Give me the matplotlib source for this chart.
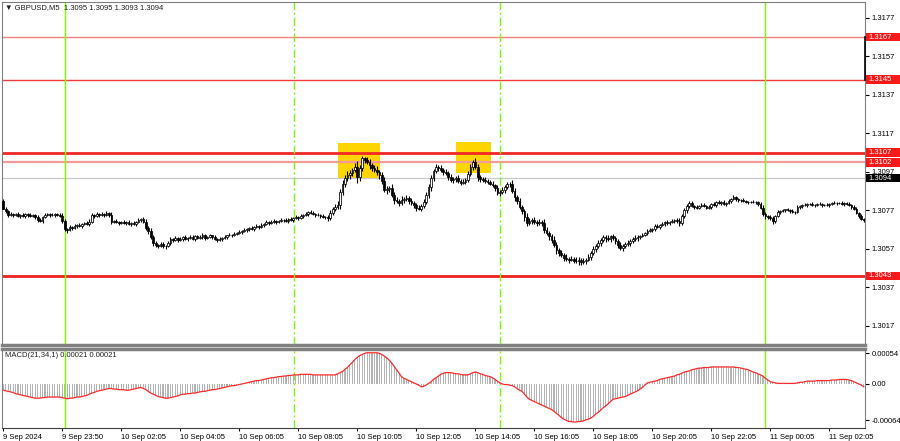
import numpy as np
import matplotlib
matplotlib.use("Agg")
import matplotlib.pyplot as plt
from matplotlib.patches import Rectangle
from matplotlib.transforms import blended_transform_factory

plt.rcParams['font.family'] = ['Liberation Sans', 'DejaVu Sans']

# GBPUSD M5 closes, in pips above 1.3000
first_open = 82
closes_pips = [
    78, 76.5, 74.5, 75, 74.5, 75, 74, 74.5, 74, 75,
    74.5, 74, 74.5, 73.5, 72, 71.5, 73.5, 74.5, 75, 74.5,
    74.5, 75, 74.5, 74, 71.5, 67.5, 67, 68.5, 68, 69,
    69.5, 69, 70, 70.5, 70, 71, 74.5, 74, 75, 74.5,
    75, 74.5, 75.5, 74.5, 71, 71.5, 71, 70.5, 71, 70.5,
    71, 70, 70.5, 70, 71, 72, 72.5, 71, 68, 66.5,
    63, 60, 59, 58.5, 59.5, 58.5, 58.5, 60, 62, 61.5,
    62.5, 61.5, 62, 63, 62, 62.5, 63, 62, 63.5, 62.5,
    63, 64, 62.5, 63, 64, 63, 62, 61.5, 62, 62.5,
    63, 64, 64.5, 64, 65, 65.5, 66, 66.5, 67, 67.5,
    68, 67.5, 68.5, 69, 68.5, 69.5, 70, 71, 70.5, 71,
    71.5, 71, 71.5, 72, 72, 71.5, 72.5, 72, 73, 73.5,
    73, 74, 74.5, 75, 76, 75.5, 75, 74.5, 74.5, 74,
    73.5, 73.5, 73, 75.5, 78, 79, 80, 86.5, 91, 94,
    95.5, 96.5, 98, 99.5, 94.5, 99, 104, 103, 102, 100.5,
    99, 98, 97, 95.5, 92.5, 87.5, 88, 88.5, 85, 82.5,
    82, 81, 82.5, 83, 83.5, 82, 81, 80, 78.5, 78,
    79.5, 81.5, 85, 89, 94, 97.5, 99.5, 99, 98, 97,
    96.5, 94.5, 93, 93.5, 94, 92.5, 91.5, 92, 93, 96,
    99.5, 102, 99.5, 94.5, 93.5, 93, 92.5, 92, 91, 90,
    88.5, 86, 86.5, 87.5, 89, 90.5, 91, 87, 84, 82,
    79, 76.5, 73.5, 70.5, 71.5, 72, 71, 70.5, 71, 70.5,
    67, 65.5, 63.5, 61.5, 59, 56.5, 55, 54, 52.5, 52,
    51.5, 52, 51, 50.5, 51.5, 50, 50.5, 51.5, 53, 55,
    57, 58.5, 60, 61.5, 63, 62.5, 62, 63.5, 62.5, 61,
    59, 57.5, 58.5, 59.5, 60, 61, 62, 62.5, 63, 63.5,
    64.5, 65.5, 66.5, 67, 67.5, 69, 68.5, 69.5, 70, 71,
    70.5, 71, 71.5, 72, 71.5, 70.5, 74, 77, 79.5, 81,
    79.5, 79, 78.5, 79.5, 80, 79.5, 78.5, 79, 80.5, 80,
    81.5, 81, 81.5, 80.5, 81, 82, 83, 84, 83, 82.5,
    82.5, 82, 81.5, 81.5, 81.5, 81.5, 81.5, 80.5, 78.5, 75,
    74, 73.5, 73, 71.5, 74, 76, 76.5, 77, 77.5, 77,
    76.5, 76, 76, 79, 79.5, 80, 80, 80.5, 80.5, 80,
    80, 80.5, 80.5, 80, 80, 80, 80.5, 81, 81, 81,
    81, 80.5, 81, 80.5, 80, 79, 78, 75.5, 74, 72.5,
    72,
]

# wick lengths beyond the body, pips
upper_wick = [
    1, 1, 0.5, 1, 0.5, 0.5, 1, 0.5, 1, 0.5,
    0.5, 1, 0.5, 0.5, 1, 1, 0.5, 1, 0.5, 0.5,
    1, 0.5, 0.5, 1, 1.5, 1, 0.5, 1, 0.5, 1,
    0.5, 1, 0.5, 0.5, 1, 1.5, 1, 0.5, 1, 0.5,
    1, 0.5, 1, 0.5, 1.5, 0.5, 1, 0.5, 0.5, 1,
    0.5, 1, 0.5, 1, 0.5, 1, 0.5, 1, 1.5, 1,
    1.5, 1, 1, 0.5, 1, 1, 0.5, 1, 1, 0.5,
    1, 0.5, 1, 0.5, 1, 0.5, 1, 1, 0.5, 1,
    1, 1.5, 1, 0.5, 1, 0.5, 1, 0.5, 1, 0.5,
    1, 0.5, 1, 0.5, 1, 0.5, 1, 0.5, 1, 0.5,
    0.5, 1, 0.5, 1, 0.5, 1, 0.5, 1, 0.5, 1,
    1, 0.5, 0.5, 1, 0.5, 1, 0.5, 1, 0.5, 1,
    0.5, 1, 0.5, 1, 0.5, 1, 1, 0.5, 1, 0.5,
    1, 0.5, 1, 1.5, 1, 1.5, 2, 1.5, 2, 1.5,
    2, 1.5, 1, 2, 3, 1.5, 1.5, 1, 2, 1.5,
    1, 1.5, 2, 1, 1.5, 2, 1.5, 1, 2, 1.5,
    1.5, 1, 2, 1, 1.5, 1, 1.5, 1, 1, 1.5,
    1, 1.5, 1.5, 2, 1.5, 1, 1.5, 1, 1.5, 1,
    1.5, 1, 1.5, 1, 1, 1.5, 1, 1.5, 1, 1.5,
    1.5, 1, 2, 1.5, 1, 1, 1.5, 1, 1, 1.5,
    1, 1.5, 1, 1.5, 1, 1.5, 1, 2, 1.5, 1,
    1.5, 1, 1.5, 2, 1.5, 1, 1.5, 1, 1.5, 1,
    2, 1.5, 1, 1.5, 2, 1.5, 1, 1.5, 1, 2,
    1, 1.5, 1, 2, 1.5, 1, 2, 1, 1.5, 1,
    1.5, 1, 1.5, 1, 1.5, 1, 2, 1, 1.5, 1,
    1, 1.5, 1, 1, 1.5, 1, 1, 1.5, 1, 1,
    1, 0.5, 1, 1, 0.5, 1, 1, 0.5, 1, 0.5,
    1, 0.5, 1, 0.5, 1, 1.5, 1, 1.5, 1, 1,
    1, 0.5, 1, 0.5, 1, 1, 0.5, 1, 0.5, 1,
    0.5, 1, 0.5, 1, 0.5, 1, 0.5, 1, 0.5, 0.5,
    0.5, 1, 0.5, 0.5, 0.5, 1, 0.5, 0.5, 1, 1.5,
    1, 0.5, 1, 1, 0.5, 1, 0.5, 1, 0.5, 1,
    0.5, 1, 0.5, 1, 0.5, 0.5, 1, 0.5, 0.5, 1,
    0.5, 0.5, 1, 0.5, 0.5, 1, 0.5, 0.5, 1, 0.5,
    0.5, 1, 0.5, 0.5, 1, 0.5, 1, 1, 0.5, 1,
    0.5,
]
lower_wick = [
    0.5, 1, 1, 0.5, 1, 0.5, 0.5, 1, 0.5, 1,
    1, 0.5, 0.5, 1, 1, 0.5, 1, 0.5, 0.5, 1,
    0.5, 1, 0.5, 0.5, 1, 1, 1.5, 0.5, 1, 0.5,
    1, 0.5, 1, 0.5, 0.5, 1, 0.5, 1, 0.5, 1,
    0.5, 1, 0.5, 1, 1, 0.5, 0.5, 1, 0.5, 0.5,
    1, 0.5, 1, 0.5, 1, 0.5, 1, 0.5, 1, 1.5,
    1, 1.5, 1, 1, 0.5, 1, 1.5, 0.5, 1, 1,
    0.5, 1, 0.5, 1, 0.5, 1, 0.5, 0.5, 1, 0.5,
    0.5, 1, 1, 0.5, 0.5, 1, 0.5, 1, 0.5, 1,
    0.5, 1, 0.5, 1, 0.5, 1, 0.5, 1, 0.5, 1,
    1, 0.5, 1, 0.5, 1, 0.5, 1, 0.5, 1, 0.5,
    0.5, 1, 0.5, 0.5, 1, 0.5, 1, 0.5, 1, 0.5,
    1, 0.5, 1, 0.5, 1, 0.5, 0.5, 1, 0.5, 1,
    0.5, 1, 1.5, 1, 1, 1.5, 1.5, 2, 1.5, 2,
    1.5, 2, 1.5, 1, 3, 2, 1.5, 1.5, 1, 2,
    1.5, 1, 1.5, 2, 1.5, 1, 2, 1.5, 1, 2,
    1, 1.5, 1, 1.5, 1, 1.5, 1, 1.5, 2, 1,
    1.5, 1, 1, 1.5, 2, 1.5, 1, 1.5, 1, 1.5,
    1, 1.5, 1, 1.5, 1.5, 1, 1.5, 1, 1.5, 1,
    1, 1.5, 1, 2, 1.5, 1, 1, 1.5, 1, 1,
    1.5, 1, 1.5, 1, 1.5, 1, 1.5, 1, 2, 1.5,
    1, 1.5, 2, 1.5, 1, 1.5, 1, 1.5, 1, 1.5,
    1.5, 1, 2, 1.5, 1, 2, 1.5, 1, 2, 1.5,
    2, 1, 1.5, 1, 2, 1.5, 1, 1.5, 1, 1.5,
    1, 1.5, 1, 1.5, 1, 2, 1, 1.5, 1, 1.5,
    1.5, 1, 1.5, 1, 1, 1.5, 1, 1, 1.5, 1,
    0.5, 1, 1, 0.5, 1, 1, 0.5, 1, 0.5, 1,
    1, 1, 0.5, 1, 1, 1.5, 1, 1, 1.5, 1,
    0.5, 1, 0.5, 1, 0.5, 0.5, 1, 0.5, 1, 0.5,
    1, 0.5, 1, 0.5, 1, 0.5, 1, 0.5, 1, 1,
    1, 0.5, 0.5, 1, 0.5, 0.5, 1, 1, 1, 1,
    1.5, 1, 1, 1.5, 1, 0.5, 1, 0.5, 1, 0.5,
    1, 0.5, 1, 0.5, 1, 1, 0.5, 1, 0.5, 0.5,
    1, 0.5, 0.5, 1, 0.5, 0.5, 1, 0.5, 0.5, 1,
    0.5, 0.5, 1, 0.5, 0.5, 1, 1, 0.5, 1, 0.5,
    1,
]

# MACD(21,34,1) main value per bar, in units of 1e-5
macd_e5 = [
    -11, -12, -13, -14, -15, -17, -18, -19, -20, -21,
    -22, -23, -24, -25, -25, -25, -24, -24, -23, -23,
    -23, -23, -23, -23, -24, -25, -26, -25, -25, -24,
    -23, -23, -22, -21, -20, -18, -16, -15, -13, -12,
    -11, -10, -9, -8, -8, -9, -9, -10, -10, -10,
    -11, -11, -10, -9, -8, -7, -6, -8, -10, -13,
    -16, -18, -20, -22, -23, -24, -25, -25, -24, -23,
    -22, -21, -19, -18, -18, -17, -17, -16, -16, -15,
    -14, -13, -13, -12, -11, -10, -10, -9, -8, -7,
    -6, -5, -4, -3, -3, -2, -1, 0, 1, 2,
    3, 4, 5, 6, 6, 7, 8, 9, 10, 11,
    11, 12, 13, 13, 14, 14, 15, 15, 16, 16,
    16, 17, 17, 17, 17, 17, 16, 16, 16, 16,
    16, 16, 16, 16, 16, 16, 18, 20, 22, 26,
    29, 34, 38, 43, 47, 50, 52, 54, 55, 55,
    55, 55, 55, 54, 52, 49, 46, 42, 37, 31,
    25, 19, 13, 10, 8, 6, 4, 2, 0, -2,
    -5, -4, -2, 1, 4, 8, 11, 14, 17, 19,
    20, 20, 20, 19, 18, 18, 17, 16, 16, 16,
    18, 20, 21, 20, 18, 17, 15, 14, 13, 11,
    8, 5, 2, 0, -1, -1, -2, -3, -5, -8,
    -11, -13, -18, -23, -27, -29, -31, -33, -35, -37,
    -39, -41, -43, -45, -48, -52, -55, -59, -62, -64,
    -66, -66, -67, -67, -66, -66, -65, -63, -62, -60,
    -57, -53, -50, -46, -42, -39, -35, -31, -27, -26,
    -25, -24, -23, -22, -20, -18, -16, -14, -12, -9,
    -6, -2, 2, 3, 4, 5, 6, 8, 9, 10,
    11, 12, 13, 14, 16, 17, 19, 21, 22, 23,
    25, 26, 27, 28, 28, 29, 29, 29, 30, 30,
    30, 30, 30, 30, 30, 30, 30, 30, 29, 29,
    28, 27, 26, 25, 23, 21, 20, 18, 16, 14,
    10, 7, 4, 3, 2, 1, 1, 1, 1, 1,
    1, 1, 1, 2, 3, 3, 4, 5, 5, 5,
    5, 6, 6, 6, 6, 6, 6, 7, 7, 7,
    8, 8, 8, 8, 7, 6, 4, 2, 0, -2,
    -5,
]

time_idx = [0, 24, 48, 72, 96, 120, 144, 168, 192, 216, 240, 264, 288, 312, 336]
time_labels = ['9 Sep 2024', '9 Sep 23:50', '10 Sep 02:05', '10 Sep 04:05', '10 Sep 06:05',
               '10 Sep 08:05', '10 Sep 10:05', '10 Sep 12:05', '10 Sep 14:05', '10 Sep 16:05',
               '10 Sep 18:05', '10 Sep 20:05', '10 Sep 22:05', '11 Sep 00:05', '11 Sep 02:05']
price_ticks = [1.3177, 1.3157, 1.3137, 1.3117, 1.3097, 1.3077, 1.3057, 1.3037, 1.3017]
macd_ticks = [0.00054, 0.0, -0.00064]
levels = [1.3167, 1.3145, 1.3107, 1.3102, 1.3043]
bid = 1.3094
zones = [(136.1, 153.2, 1.30932, 1.31122), (184.1, 198.4, 1.30966, 1.31126)]
day_lines = [25.1, 309.8]
session_lines = [118.2, 202.0]

# line look per level
level_style = {1.3167: ('#f47f7f', 1.0), 1.3145: ('#f03c3c', 1.0), 1.3107: ('#f02828', 2.0),
               1.3102: ('#f49a9a', 1.6), 1.3043: ('#f02020', 2.0)}

closes = 1.3 + np.array(closes_pips) / 10000
opens = np.concatenate([[1.3 + first_open / 10000], closes[:-1]])
highs = np.maximum(opens, closes) + np.array(upper_wick) / 10000
lows = np.minimum(opens, closes) - np.array(lower_wick) / 10000
macd = np.array(macd_e5) / 1e5
N = len(closes)
x = np.arange(N)

fig = plt.figure(figsize=(9, 4.41), dpi=100)
ax = fig.add_axes([2 / 900, 1 - 345 / 441, 863 / 900, 343 / 441])
ax2 = fig.add_axes([2 / 900, 1 - 428 / 441, 863 / 900, 79 / 441])

# zones behind the candles
for x0, x1, lo, hi in zones:
    ax.add_patch(Rectangle((x0, lo), x1 - x0, hi - lo, facecolor='#ffd500', edgecolor='none', zorder=1))

for lv in levels:
    c, lw = level_style[lv]
    ax.axhline(lv, color=c, lw=lw, zorder=2)
ax.axhline(bid, color='#c8c8c8', lw=0.9, zorder=2)

for a in (ax, ax2):
    for d in day_lines:
        a.axvline(d, color='#7cfc00', lw=1.0, zorder=2)
    for d in session_lines:
        a.axvline(d, color='#7cfc00', lw=1.0, ls=(0, (6, 2, 1.5, 2)), zorder=2)

# candles
bull = closes >= opens
body_lo = np.minimum(opens, closes)
body_h = np.abs(closes - opens)
ax.vlines(x, lows, highs, color='black', lw=0.8, zorder=3)
ax.bar(x[bull], body_h[bull], bottom=body_lo[bull], width=0.7, facecolor='white',
       edgecolor='black', linewidth=0.55, zorder=4)
ax.bar(x[~bull], body_h[~bull], bottom=body_lo[~bull], width=0.7, facecolor='black',
       edgecolor='black', linewidth=0.55, zorder=4)

ax.set_xlim(-0.5, N - 0.5)
ax.set_ylim(1.30071, 1.31853)
ax.yaxis.tick_right()
ax.set_yticks(price_ticks)
ax.set_yticklabels([f'{p:.4f}' for p in price_ticks])
ax.set_xticks([])
ax.tick_params(axis='y', length=3, width=0.8, pad=2, labelsize=5.5, colors='black')

tr = blended_transform_factory(ax.transAxes, ax.transData)
for lv in levels:
    ax.add_patch(Rectangle((1.0015, lv - 0.00022), 0.04, 0.00044, transform=tr,
                           facecolor='#f81a1a', edgecolor='none', clip_on=False, zorder=6))
    ax.text(1.0045, lv, f'{lv:.4f}', transform=tr, color='white', fontsize=5.5,
            va='center', ha='left', zorder=7, clip_on=False)
ax.add_patch(Rectangle((1.0015, bid - 0.0002), 0.04, 0.0004, transform=tr,
                       facecolor='black', edgecolor='none', clip_on=False, zorder=6))
ax.text(1.0045, bid - 0.00003, f'{bid:.4f}', transform=tr, color='white', fontsize=5.5,
        va='center', ha='left', zorder=7, clip_on=False)
ax.plot([1.0005, 1.0005], [levels[1], levels[0]], transform=tr, color='black', lw=1.2,
        clip_on=False, zorder=6)

ax.text(0.004, 0.993, '\u25bc GBPUSD,M5  1.3095 1.3095 1.3093 1.3094', transform=ax.transAxes,
        fontsize=5.5, va='top', ha='left', color='#202020')

for s in ax.spines.values():
    s.set_color('#808080')
    s.set_linewidth(0.8)
ax.spines['bottom'].set_linewidth(2.5)

# MACD panel
ax2.bar(x, macd, width=0.45, color='#b4b4b4', linewidth=0, zorder=3)
ax2.plot(x, macd, color='#ff2a2a', lw=0.9, zorder=4)
ax2.set_xlim(-0.5, N - 0.5)
ax2.set_ylim(-0.000775, 0.000616)
ax2.yaxis.tick_right()
ax2.set_yticks(macd_ticks)
ax2.set_yticklabels(['0.00054', '0.00', '-0.00064'])
ax2.tick_params(axis='y', length=3, width=0.8, pad=2, labelsize=5.5, colors='black')
ax2.set_xticks(time_idx)
ax2.set_xticklabels(time_labels, ha='left')
ax2.tick_params(axis='x', length=2.5, width=0.8, pad=1.5, labelsize=5.5, colors='black')
ax2.text(0.004, 0.96, 'MACD(21,34,1) 0.00021 0.00021', transform=ax2.transAxes,
         fontsize=5.5, va='top', ha='left', color='#202020')
for s in ax2.spines.values():
    s.set_color('#808080')
    s.set_linewidth(0.8)
ax2.spines['top'].set_linewidth(2.5)
ax2.spines['bottom'].set_color('#404040')

fig.savefig('out.png', dpi=100)
